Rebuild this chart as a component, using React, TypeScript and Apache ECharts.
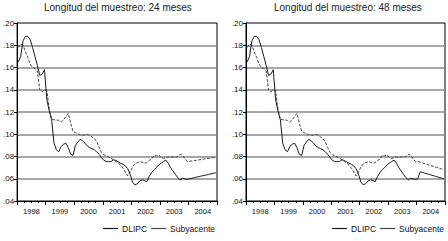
import React, { useEffect, useRef } from "react";
import * as echarts from "echarts";

const years = ["1998", "1999", "2000", "2001", "2002", "2003", "2004"];
const titles = ["Longitud del muestreo: 24 meses", "Longitud del muestreo: 48 meses"];
const seriesNames = ["DLIPC", "Subyacente"];

// observed monthly values, Jan 1998 - Dec 2003
const dlipcObs = [
  0.165, 0.170, 0.184, 0.188, 0.188, 0.185, 0.178, 0.170, 0.162, 0.153, 0.154, 0.158,
  0.131, 0.121, 0.113, 0.092, 0.086, 0.0843, 0.089, 0.091, 0.092, 0.088, 0.082, 0.081,
  0.090, 0.093, 0.0955, 0.094, 0.092, 0.0895, 0.088, 0.087, 0.086, 0.084, 0.082, 0.079,
  0.0765, 0.0755, 0.0753, 0.0755, 0.077, 0.0765, 0.0752, 0.074, 0.073, 0.0715, 0.069, 0.064,
  0.057, 0.0545, 0.0555, 0.058, 0.059, 0.0585, 0.0573, 0.062, 0.0655, 0.068, 0.070, 0.0725,
  0.074, 0.0755, 0.0768, 0.074, 0.070, 0.067, 0.064, 0.061, 0.059, 0.0604, 0.060, 0.0595,
];
const subyObs = [
  0.178, 0.181, 0.180, 0.174, 0.169, 0.163, 0.160, 0.159, 0.157, 0.140, 0.138, 0.140,
  0.139, 0.122, 0.1135, 0.113, 0.1128, 0.1125, 0.111, 0.113, 0.116, 0.1188, 0.110, 0.1025,
  0.1015, 0.1005, 0.0995, 0.0993, 0.0993, 0.100, 0.099, 0.0975, 0.096, 0.093, 0.088, 0.0835,
  0.0815, 0.0808, 0.0795, 0.0785, 0.077, 0.0755, 0.074, 0.0722, 0.0695, 0.066, 0.0625, 0.066,
  0.0705, 0.0735, 0.0745, 0.0752, 0.075, 0.074, 0.0745, 0.0765, 0.0775, 0.081, 0.0805, 0.0815,
  0.079, 0.0783, 0.079, 0.0795, 0.0795, 0.0795, 0.0795, 0.080, 0.082, 0.081, 0.078, 0.0755,
];
// 2004 values, 24-month sample
const dlipc2004_24 = [0.0600, 0.0605, 0.0610, 0.0615, 0.0620, 0.0625, 0.0629, 0.0634, 0.0639, 0.0644, 0.0649, 0.0654];
const suby2004_24 = [0.0757, 0.0760, 0.0763, 0.0767, 0.0770, 0.0773, 0.0777, 0.0780, 0.0783, 0.0786, 0.0790, 0.0793];
// 2004 values, 48-month sample
const dlipc2004_48 = [0.0600, 0.0663, 0.0657, 0.0650, 0.0644, 0.0638, 0.0631, 0.0625, 0.0619, 0.0612, 0.0606, 0.0600];
const suby2004_48 = [0.0755, 0.0750, 0.0743, 0.0736, 0.0729, 0.0722, 0.0716, 0.0709, 0.0702, 0.0695, 0.0688, 0.0682];

const FONT = "'Liberation Sans', Arial, sans-serif";

const toPoints = (vals: number[]) => vals.map((v, i) => [i + 0.5, v]);

export default function App() {
  const ref = useRef<HTMLDivElement>(null);
  useEffect(() => {
    if (!ref.current) return;
    const chart = echarts.init(ref.current, null, { renderer: "svg" });
    const nMonths = years.length * 12;
    const grids = [
      { left: 17, top: 23, width: 200, height: 178 },
      { left: 246, top: 23, width: 199, height: 178 },
    ];
    const panels = [
      { dl: dlipcObs.concat(dlipc2004_24), su: subyObs.concat(suby2004_24) },
      { dl: dlipcObs.concat(dlipc2004_48), su: subyObs.concat(suby2004_48) },
    ];
    const xAxes = grids.map((_, g) => ({
      type: "value",
      gridIndex: g,
      min: 0,
      max: nMonths,
      interval: 12,
      axisLine: { show: true, lineStyle: { color: "#000", width: 1 } },
      axisTick: { show: true, inside: false, length: 4, lineStyle: { color: "#000", width: 1 } },
      minorTick: { show: true, splitNumber: 4, length: 2, lineStyle: { color: "#000", width: 1 } },
      splitLine: { show: false },
      minorSplitLine: { show: false },
      axisLabel: {
        show: true,
        customValues: years.map((_, k) => k * 12 + 6),
        formatter: (v: number) => years[Math.round((v - 6) / 12)] ?? "",
        fontSize: 7.5,
        fontFamily: FONT,
        color: "#111",
        margin: 6,
      },
    }));
    const yAxes = grids.map((_, g) => ({
      type: "value",
      gridIndex: g,
      min: 0.04,
      max: 0.2,
      interval: 0.02,
      axisLine: { show: true, lineStyle: { color: "#000", width: 1 } },
      axisTick: { show: true, inside: false, length: 3, lineStyle: { color: "#000" } },
      splitLine: {
        show: true,
        showMinLine: false,
        showMaxLine: false,
        lineStyle: { color: "#8a8a8a", width: 1.5 },
      },
      axisLabel: {
        formatter: (v: number) => v.toFixed(2).replace(/^0/, ""),
        fontSize: 8,
        fontFamily: FONT,
        color: "#111",
        margin: 3,
      },
    }));
    const series: any[] = [];
    panels.forEach((p, g) => {
      series.push({
        name: seriesNames[0],
        type: "line",
        xAxisIndex: g,
        yAxisIndex: g,
        data: toPoints(p.dl),
        symbol: "none",
        color: "#1a1a1a",
        lineStyle: { color: "#1a1a1a", width: 1 },
        z: 3,
      });
      series.push({
        name: seriesNames[1],
        type: "line",
        xAxisIndex: g,
        yAxisIndex: g,
        data: toPoints(p.su),
        symbol: "none",
        color: "#444",
        lineStyle: { color: "#444", width: 1, type: [3, 1.5] },
        z: 2,
      });
    });
    chart.setOption({
      animation: false,
      backgroundColor: "#fff",
      title: titles.map((t, g) => ({
        text: t,
        left: g === 0 ? 44 : 274,
        top: 2,
        padding: 0,
        textStyle: { fontSize: 10, fontWeight: "normal", color: "#222", fontFamily: FONT },
      })),
      legend: [233, 4].map((r) => ({
        data: seriesNames,
        right: r,
        top: 224,
        icon: "rect",
        itemWidth: 15,
        itemHeight: 1.2,
        itemGap: 4,
        padding: 0,
        textStyle: { fontSize: 8.5, fontFamily: FONT, color: "#111", padding: [0, 0, 0, -1] },
      })),
      grid: grids.map((g) => ({ ...g, show: true, borderColor: "#000", borderWidth: 1, backgroundColor: "transparent" })),
      xAxis: xAxes,
      yAxis: yAxes,
      series,
    });
    return () => chart.dispose();
  }, []);
  return (
    <div
      ref={ref}
      style={{ position: "absolute", left: 0, top: 0, width: 448, height: 241 }}
    />
  );
}
